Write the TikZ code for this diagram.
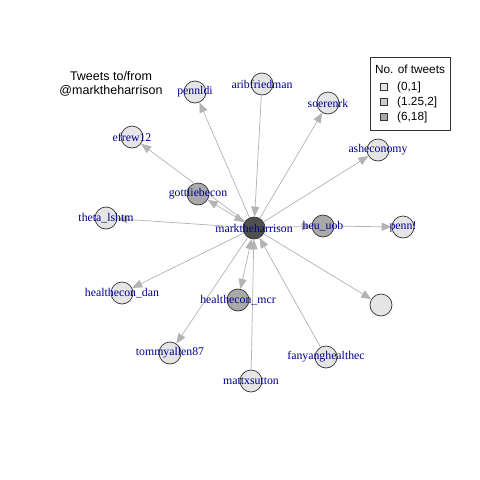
\documentclass[tikz,border=0pt]{standalone}
\usepackage{fontspec}
\setmainfont{Liberation Serif}
\newfontfamily\helv{Liberation Sans}
\usetikzlibrary{arrows.meta}
\definecolor{edgec}{HTML}{B3B3B3}
\definecolor{lightn}{HTML}{E5E5E5}
\definecolor{midn}{HTML}{CCCCCC}
\definecolor{darkn}{HTML}{A9A9A9}
\definecolor{hubn}{HTML}{505050}
\definecolor{labc}{HTML}{00008B}
\tikzset{
  vert/.style={circle,draw=black!80,line width=0.7pt,minimum size=22pt,inner sep=0pt},
  lt/.style={vert,fill=lightn},
  dk/.style={vert,fill=darkn},
  hub/.style={vert,fill=hubn},
  lab/.style={text=labc,font=\fontsize{11.8}{13}\selectfont,inner sep=0pt},
  edge/.style={draw=edgec,line width=0.7pt,-{Triangle[length=10pt,width=8pt]},color=edgec},
  bedge/.style={draw=edgec,line width=0.7pt,{Triangle[length=10pt,width=8pt]}-{Triangle[length=10pt,width=8pt]},color=edgec},
  legsq/.style={draw=black!80,line width=0.6pt,minimum size=7pt,inner sep=0pt},
  legtx/.style={font=\helv\fontsize{11.8}{13}\selectfont,anchor=west,inner sep=0pt}
}
\begin{document}
\begin{tikzpicture}[x=1pt,y=-1pt]
\useasboundingbox[fill=white] (0,0) rectangle (480,480);
% vertices
\node[hub] (C) at (254,228) {};
\node[lt] (pennldi) at (195,92) {};
\node[lt] (arib) at (262,84) {};
\node[lt] (soer) at (328,103) {};
\node[lt] (ashe) at (378,150) {};
\node[lt] (efrew) at (132,137) {};
\node[dk] (gott) at (198,194) {};
\node[lt] (theta) at (106,218) {};
\node[dk] (heu) at (323,226) {};
\node[lt] (penn) at (403,227) {};
\node[lt] (blank) at (381,305) {};
\node[lt] (dan) at (122,293) {};
\node[dk] (mcr) at (238,300) {};
\node[lt] (tommy) at (170,353) {};
\node[lt] (matt) at (251,381) {};
\node[lt] (fany) at (326,357) {};
% edges
\draw[edge] (C) -- (pennldi);
\draw[edge] (arib) -- (C);
\draw[edge] (C) -- (soer);
\draw[edge] (C) -- (ashe);
\draw[edge] (C) -- (efrew);
\draw[bedge] (gott) -- (C);
\draw[edge] (C) -- (theta);
\draw[edge] (C) -- (heu);
\draw[edge] (heu) -- (penn);
\draw[edge] (C) -- (blank);
\draw[edge] (C) -- (dan);
\draw[edge] (C) -- (tommy);
\draw[bedge] (mcr) -- (C);
\draw[edge] (matt) -- (C);
\draw[edge] (fany) -- (C);
% labels
\node[lab] at (C) {marktheharrison};
\node[lab] at (pennldi) {pennldi};
\node[lab] at (arib) {aribfriedman};
\node[lab] at (soer) {soerenrk};
\node[lab] at (ashe) {asheconomy};
\node[lab] at (efrew) {efrew12};
\node[lab] at (gott) {gottliebecon};
\node[lab] at (theta) {theta\_lshtm};
\node[lab] at (heu) {heu\_uob};
\node[lab] at (penn) {penn!};
\node[lab] at (dan) {healthecon\_dan};
\node[lab] at (mcr) {healthecon\_mcr};
\node[lab] at (tommy) {tommyallen87};
\node[lab] at (matt) {mattxsutton};
\node[lab] at (fany) {fanyanghealthec};
% title
\node[font=\helv\fontsize{12.5}{14}\selectfont,align=center,inner sep=0pt] (title) at (111,84) {Tweets to/from\\@marktheharrison};
% legend
\node[draw=black!80,line width=0.7pt,minimum width=80pt,minimum height=73pt,anchor=north west,inner sep=0pt] (leg) at (370,57) {};
\node[legtx,anchor=center] (legt) at (410,69) {No. of tweets};
\node[legsq,fill=lightn] (s1) at (384,87) {};
\node[legsq,fill=midn] (s2) at (384,102) {};
\node[legsq,fill=darkn] (s3) at (384,117) {};
\node[legtx] (t1) at (397,87) {(0,1]};
\node[legtx] (t2) at (397,102) {(1.25,2]};
\node[legtx] (t3) at (397,117) {(6,18]};
\end{tikzpicture}
\end{document}
